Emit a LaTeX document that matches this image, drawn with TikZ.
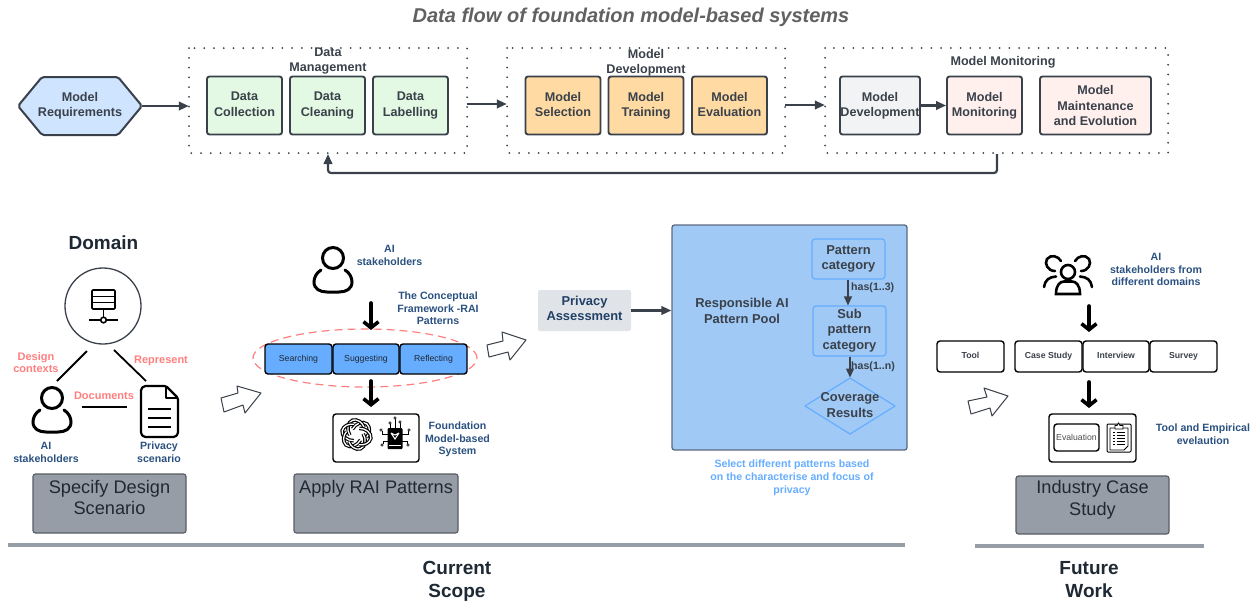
\documentclass[tikz,border=0pt]{standalone}
\usepackage{fontspec}
\setmainfont{Liberation Sans}
\usetikzlibrary{arrows.meta,shapes.geometric}
\definecolor{ink}{HTML}{3A414A}
\definecolor{deep}{HTML}{1F2933}
\definecolor{navy}{HTML}{2A5180}
\definecolor{coral}{HTML}{FF7F7F}
\definecolor{sky}{HTML}{66ADFF}
\definecolor{slate}{HTML}{979DA6}
\definecolor{greenfill}{HTML}{E3F9E3}
\definecolor{orangefill}{HTML}{FFDBA3}
\definecolor{pinkfill}{HTML}{FFF0EE}
\definecolor{palegray}{HTML}{F2F3F5}
\definecolor{poolfill}{HTML}{A0C9F5}
\definecolor{hexfill}{HTML}{CFE4FF}
\definecolor{privfill}{HTML}{E0E3E8}
\definecolor{pooledge}{HTML}{5C6B80}
\tikzset{
  x=1pt,y=-1pt,
  boxtxt/.style={font=\fontsize{12.6}{15.2}\selectfont\bfseries,text=ink,align=center,inner sep=0pt},
  pooltxt/.style={font=\fontsize{12.9}{15.5}\selectfont\bfseries,text=ink,align=center,inner sep=0pt},
  stage/.style={boxtxt,draw=ink,line width=1.9pt,rounded corners=2.5pt,minimum height=58pt},
  greenstage/.style={stage,fill=greenfill,minimum width=75pt,execute at end node={\vphantom{g}}},
  orangestage/.style={stage,fill=orangefill,minimum width=75pt,execute at end node={\vphantom{g}}},
  pinkbox/.style={stage,fill=pinkfill},
  dotbox/.style={draw=ink,line width=2pt,line cap=round,dash pattern=on 0pt off 9.75pt,minimum height=105pt,inner sep=0pt},
  flow/.style={draw=ink,line width=2.2pt,-{Triangle[length=10pt,width=8.5pt]},rounded corners=3pt},
  heavy/.style={draw=black,line width=3.6pt,line cap=round,-{Straight Barb[length=6pt,width=15pt,line width=3.6pt]}},
  thin flow/.style={draw=ink,line width=1.2pt,-{Triangle[length=9pt,width=8pt]}},
  redlbl/.style={font=\fontsize{11}{12.8}\selectfont\bfseries,text=coral,align=center,inner sep=0pt},
  navylbl/.style={font=\fontsize{10.6}{12.7}\selectfont\bfseries,text=navy,align=center,inner sep=0pt},
  skylbl/.style={font=\fontsize{10.6}{12.9}\selectfont\bfseries,text=sky,align=center,inner sep=0pt},
  haslbl/.style={font=\fontsize{10.6}{13}\selectfont\bfseries,text=ink,anchor=west,inner sep=0pt},
  graybox/.style={draw=ink!85,line width=1.2pt,fill=slate,rounded corners=2.5pt},
  graytxt/.style={font=\fontsize{18.2}{21.7}\selectfont,text=deep,align=center,inner sep=0pt},
  scope lbl/.style={font=\fontsize{19}{23}\selectfont\bfseries,text=deep,align=center,inner sep=0pt},
  ruleline/.style={draw=slate,line width=4pt},
  sketcharrow/.style={draw=ink,line width=1pt,fill=white,line join=round},
  blackbox/.style={draw=black,line width=1.4pt,rounded corners=3pt,fill=white,inner sep=0pt},
  stepblue/.style={blackbox,fill=sky,font=\fontsize{8.7}{11}\selectfont,text=deep,minimum height=30pt,minimum width=67pt,execute at end node={\vphantom{g}}},
  stepwhite/.style={blackbox,font=\fontsize{8.7}{11}\selectfont\bfseries,text=ink,minimum height=31pt,minimum width=67pt,execute at end node={\vphantom{g}}},
  innerblue/.style={pooltxt,draw=sky,line width=1.2pt,rounded corners=3pt},
  personicon/.pic={
    \draw[black,line width=3pt] (0,0) circle[radius=10.5];
    \draw[black,line width=3pt,line cap=round] (-12,12) .. controls (-17,15) and (-19,20) .. (-19,24)
      .. controls (-19,31) and (-13,34) .. (-6,34) -- (6,34) .. controls (13,34) and (19,31) .. (19,24)
      .. controls (19,20) and (17,15) .. (12,12);
  },
}
\begin{document}
\begin{tikzpicture}
\useasboundingbox (0,0) rectangle (1260,603);
% title
\node[font=\fontsize{20}{24}\selectfont\bfseries\itshape,text=black!62,inner sep=0pt] (title) at (631,17) {Data flow of foundation model-based systems};
% hexagon
\draw[draw=ink,line width=2pt,fill=hexfill,rounded corners=2pt] (18,106) -- (42,77) -- (118,77) -- (142,106) -- (118,135) -- (42,135) -- cycle;
\node[boxtxt,minimum width=124pt,minimum height=58pt] (req) at (80,106) {Model\\Requirements};
% dotted groups
\draw[dotbox] (189,48) rectangle (467,153);
\node[inner sep=0pt,minimum width=278pt,minimum height=105pt] (dm) at (328,100.5) {};
\draw[dotbox] (507,48) rectangle (785,153);
\node[inner sep=0pt,minimum width=278pt,minimum height=105pt] (mdev) at (646,100.5) {};
\draw[dotbox] (825,48) rectangle (1168,153);
\node[inner sep=0pt,minimum width=343pt,minimum height=105pt] (mmon) at (996.5,100.5) {};
\node[boxtxt] (dmt) at (328,61) {Data\\Management};
\node[boxtxt] (mdt) at (646,63) {Model\\Development};
\node[boxtxt] (mmt) at (1003,62) {Model Monitoring};
% stages
\node[greenstage] (d1) at (244.5,105.5) {Data\\Collection};
\node[greenstage] (d2) at (327.5,105.5) {Data\\Cleaning};
\node[greenstage] (d3) at (410.5,105.5) {Data\\Labelling};
\node[orangestage] (m1) at (563,105.5) {Model\\Selection};
\node[orangestage] (m2) at (646,105.5) {Model\\Training};
\node[orangestage] (m3) at (729.5,105.5) {Model\\Evaluation};
\node[stage,fill=palegray,minimum width=80pt] (k1) at (880,105.5) {Model\\Development};
\node[pinkbox,minimum width=75pt] (k2) at (984.5,105.5) {Model\\Monitoring};
\node[pinkbox,minimum width=111pt] (k3) at (1095.5,105.5) {Model\\Maintenance\\and Evolution};
% flows
\draw[flow] (req.east) -- (req.east -| dm.west);
\draw[flow] (dm.east |- 0,104) -- (mdev.west |- 0,104);
\draw[flow] (mdev.east |- 0,105) -- (mmon.west |- 0,105);
\draw[flow] (k1.east) -- (k2.west);
\coordinate (fbstart) at (997,154);
\coordinate (fbend) at (328,154);
\draw[flow] (fbstart) |- (328,173) -- (fbend);
% domain
\node[font=\fontsize{19}{22}\selectfont\bfseries,text=deep,inner sep=0pt] (domain) at (103.5,243) {Domain};
\node[circle,draw=ink,line width=1.3pt,minimum size=76pt,inner sep=0pt] (dc) at (103,306) {};
\begin{scope}[draw=black,line width=1.6pt]
\draw[rounded corners=1pt] (92,290) rectangle (115,309);
\draw (92,296.5) -- (115,296.5) (92,302.5) -- (115,302.5);
\draw (103.5,309) -- (103.5,317);
\draw (89,320) -- (100.5,320) (106.5,320) -- (118,320);
\draw (103.5,320) circle[radius=2.8];
\end{scope}
\pic at (52,398) {personicon};
% document
\draw[black,line width=2.2pt,line join=round,rounded corners=1.5pt] (166,386) -- (144,386) -- (141,389) -- (141,434) -- (144,437) -- (175,437) -- (178,434) -- (178,398) -- cycle;
\draw[black,line width=1.8pt,line join=round] (166,386) -- (166,398) -- (178,398);
\draw[black,line width=1.6pt] (148,409) -- (171,409) (148,418) -- (171,418) (148,427) -- (171,427);
\coordinate (l1a) at (87,351);\coordinate (l1b) at (57,381);
\coordinate (l2a) at (114,350);\coordinate (l2b) at (146,381);
\coordinate (l3a) at (82,407);\coordinate (l3b) at (127,407);
\draw[black,line width=1.8pt] (l1a) -- (l1b);
\draw[black,line width=1.8pt] (l2a) -- (l2b);
\draw[black,line width=1.8pt] (l3a) -- (l3b);
\node[redlbl] (dl1) at (36,362.5) {Design\\contexts};
\node[redlbl] (dl2) at (161,361) {Represent};
\node[redlbl] (dl3) at (104,396) {Documents};
\node[navylbl] (dl4) at (46,452.5) {AI\\stakeholders};
\node[navylbl] (dl5) at (159,452.5) {Privacy\\scenario};
\node[graybox,minimum width=153pt,minimum height=59pt] (sb) at (109.5,503.5) {};
\node[graytxt] (sbt) at (109.5,497.5) {Specify Design\\Scenario};
% sketch arrows
\draw[sketcharrow] (221,398) -- (238,393) -- (237,386) -- (261,393) -- (245,413) -- (243,405) -- (224,412) -- cycle;
\draw[sketcharrow] (487,345) -- (503,341) -- (502,332) -- (526,340) -- (510,360) -- (508,352) -- (489,357) -- cycle;
\draw[sketcharrow] (968,401) -- (987,397) -- (984,388) -- (1008,396) -- (992,416) -- (990,408) -- (971,414) -- cycle;
% apply RAI
\pic at (333,258) {personicon};
\node[navylbl] (a1) at (389.5,255.5) {AI\\stakeholders};
\node[navylbl] (a2) at (438,308.5) {The Conceptual\\Framework -RAI\\Patterns};
\node[draw=coral,line width=1.2pt,dash pattern=on 8pt off 5pt,ellipse,minimum width=224pt,minimum height=58pt,inner sep=0pt] (el) at (365,358) {};
\node[stepblue,minimum width=67pt] (s1) at (298.5,359) {Searching};
\node[stepblue,minimum width=66pt] (s2) at (366,359) {Suggesting};
\node[stepblue,minimum width=67pt] (s3) at (433.5,359) {Reflecting};
\coordinate (h1) at (371,303);\coordinate (h2) at (371,330);
\draw[heavy] (h1) -- (h2);
\coordinate (h3) at (371,381);\coordinate (h4) at (371,407);
\draw[heavy] (h3) -- (h4);
\node[blackbox,minimum width=86pt,minimum height=48pt] (fm) at (376,438) {};
% knot logo
\begin{scope}[shift={(356.5,434.5)}]
\foreach \a in {0,60,...,300}{
  \draw[black,line width=3.6pt,rotate=\a] (-4,-5.5) .. controls (-1,-11) and (6,-14) .. (10.5,-10.5) .. controls (14,-7) and (13.5,-1) .. (10,3);
  \draw[white,line width=1.3pt,rotate=\a] (-4,-5.5) .. controls (-1,-11) and (6,-14) .. (10.5,-10.5) .. controls (14,-7) and (13.5,-1) .. (10,3);
}
\end{scope}
% chip
\begin{scope}[shift={(395,436)}]
\draw[black,line width=.7pt] (-5,-6) -- (-5,-12) (0,-8) -- (0,-17) (5,-6) -- (5,-13)
  (-7,-2) -- (-13,-2) -- (-13,-5) (7,-2) -- (13,-2) -- (13,-5)
  (-7,5) -- (-12,5) -- (-12,8) (7,5) -- (12,5) -- (12,8);
\foreach \p in {(-5,-13),(0,-18),(5,-14),(-14,-6),(14,-6),(-13,9),(13,9)}
  \draw[black,line width=.6pt,fill=white] \p circle[radius=1.3];
\fill[black,rounded corners=1pt] (-7.5,-8) rectangle (7.5,13);
\draw[white,line width=1pt] (-4,-3) -- (0,3) -- (4,-3) (-4,-3) -- (0,-1) -- (4,-3);
\draw[white,line width=.7pt] (-6,9) -- (6,9);
\end{scope}
\node[navylbl] (a3) at (457.5,439.5) {Foundation\\Model-based\\System};
\node[graybox,minimum width=164pt,minimum height=59pt] (ab) at (376,503.5) {};
\node[graytxt] (abt) at (376,488.5) {Apply RAI Patterns};
% privacy assessment
\node[pooltxt,fill=privfill,rounded corners=2pt,minimum width=93pt,minimum height=41pt,text=navy!80!black,execute at end node={\rule[-4pt]{0pt}{4pt}}] (pa2) at (584.5,310.5) {Privacy\\Assessment};
% pool
\node[draw=pooledge,line width=1.3pt,fill=poolfill,rounded corners=2.5pt,minimum width=235pt,minimum height=225pt,inner sep=0pt] (pool) at (789.5,337.5) {};
\draw[flow] (pa2.east) -- (pool.west |- pa2.east);
\node[pooltxt] (pt) at (742,311) {Responsible AI\\Pattern Pool};
\node[innerblue,minimum width=73pt,minimum height=40pt] (p1) at (848.5,259) {Pattern\\category};
\node[innerblue,minimum width=73pt,minimum height=50pt] (p2) at (849.5,331) {Sub\\\rule{0pt}{10pt}pattern\\category\rule[-4pt]{0pt}{1pt}};
\draw[draw=sky,line width=1.2pt,line join=round] (850,378) -- (895,406) -- (850,434) -- (805,406) -- cycle;
\node[pooltxt,minimum width=90pt,minimum height=56pt] (p3) at (850,405) {Coverage\\Results};
\draw[thin flow] (p1.south -| 848,0) -- (p2.north -| 848,0);
\draw[thin flow] (p2.south -| 850,0) -- (850,377.5);
\node[haslbl] (hl1) at (851,288) {has(1..3)};
\node[haslbl] (hl2) at (851,366.5) {has(1..n)};
\node[skylbl] (st) at (792,478) {Select different patterns based\\on the characterise and focus of\\privacy};
% future
\begin{scope}[black,line width=2.6pt,line cap=round]
\draw (1068,272) circle[radius=7];
\draw (1056,294) .. controls (1056,285) and (1060,281.5) .. (1064,281.5) -- (1072,281.5) .. controls (1076,281.5) and (1080,285) .. (1080,294) -- cycle;
\draw (1061,261) .. controls (1058,256) and (1051,254) .. (1047,259) .. controls (1044,264) and (1048,271) .. (1055,271);
\draw (1075,261) .. controls (1078,256) and (1085,254) .. (1089,259) .. controls (1092,264) and (1088,271) .. (1081,271);
\draw (1044,287) .. controls (1045,280) and (1049,277) .. (1056,276.5);
\draw (1092,287) .. controls (1091,280) and (1087,277) .. (1080,276.5);
\end{scope}
\node[navylbl] (f1) at (1156,269.5) {AI\\stakeholders from\\different domains};
\coordinate (h5) at (1089,306);\coordinate (h6) at (1089,332);
\draw[heavy] (h5) -- (h6);
\node[stepwhite] (t0) at (970.5,356.5) {Tool};
\node[stepwhite] (t1) at (1048.5,356.5) {Case Study};
\node[stepwhite,minimum width=66pt] (t2) at (1116,356.5) {Interview};
\node[stepwhite] (t3) at (1183.5,356.5) {Survey};
\coordinate (h7) at (1089,382);\coordinate (h8) at (1089,408);
\draw[heavy] (h7) -- (h8);
\node[blackbox,minimum width=87pt,minimum height=48pt] (ev) at (1092.5,438) {};
\node[blackbox,minimum width=45pt,minimum height=27pt,font=\fontsize{8.7}{11}\selectfont,text=black!70] (evi) at (1076.5,437.5) {Evaluation};
% clipboard
\draw[black,line width=1pt,rounded corners=1pt] (1107,424) rectangle (1131,452);
\draw[black,line width=.8pt] (1110,428) -- (1128,428) -- (1128,446) -- (1124,450) -- (1110,450) -- cycle;
\draw[black,line width=.8pt,fill=white] (1115,425.5) -- (1117,425.5) -- (1118.5,423) -- (1120,425.5) -- (1123,425.5) -- (1123,429) -- (1115,429) -- cycle;
\foreach \yy in {432,435,438,441,444}{
  \draw[black,line width=.8pt] (1113,\yy) -- (1114.5,\yy) (1116.5,\yy) -- (1125,\yy);
}
\node[navylbl] (f2) at (1203,434.5) {Tool and Empirical\\evelaution};
\node[graybox,minimum width=153pt,minimum height=58pt] (ib) at (1092.5,505) {};
\node[graytxt] (ibt) at (1092.5,500) {Industry Case\\Study};
% rules
\coordinate (r1) at (8,545);\coordinate (r2) at (905,545);
\coordinate (r3) at (975,546);\coordinate (r4) at (1204,546);
\draw[ruleline] (r1) -- (r2);
\draw[ruleline] (r3) -- (r4);
\node[scope lbl] (cs) at (457,581.5) {Current\\Scope};
\node[scope lbl] (fw) at (1089,579.5) {Future\\Work};
\end{tikzpicture}
\end{document}
